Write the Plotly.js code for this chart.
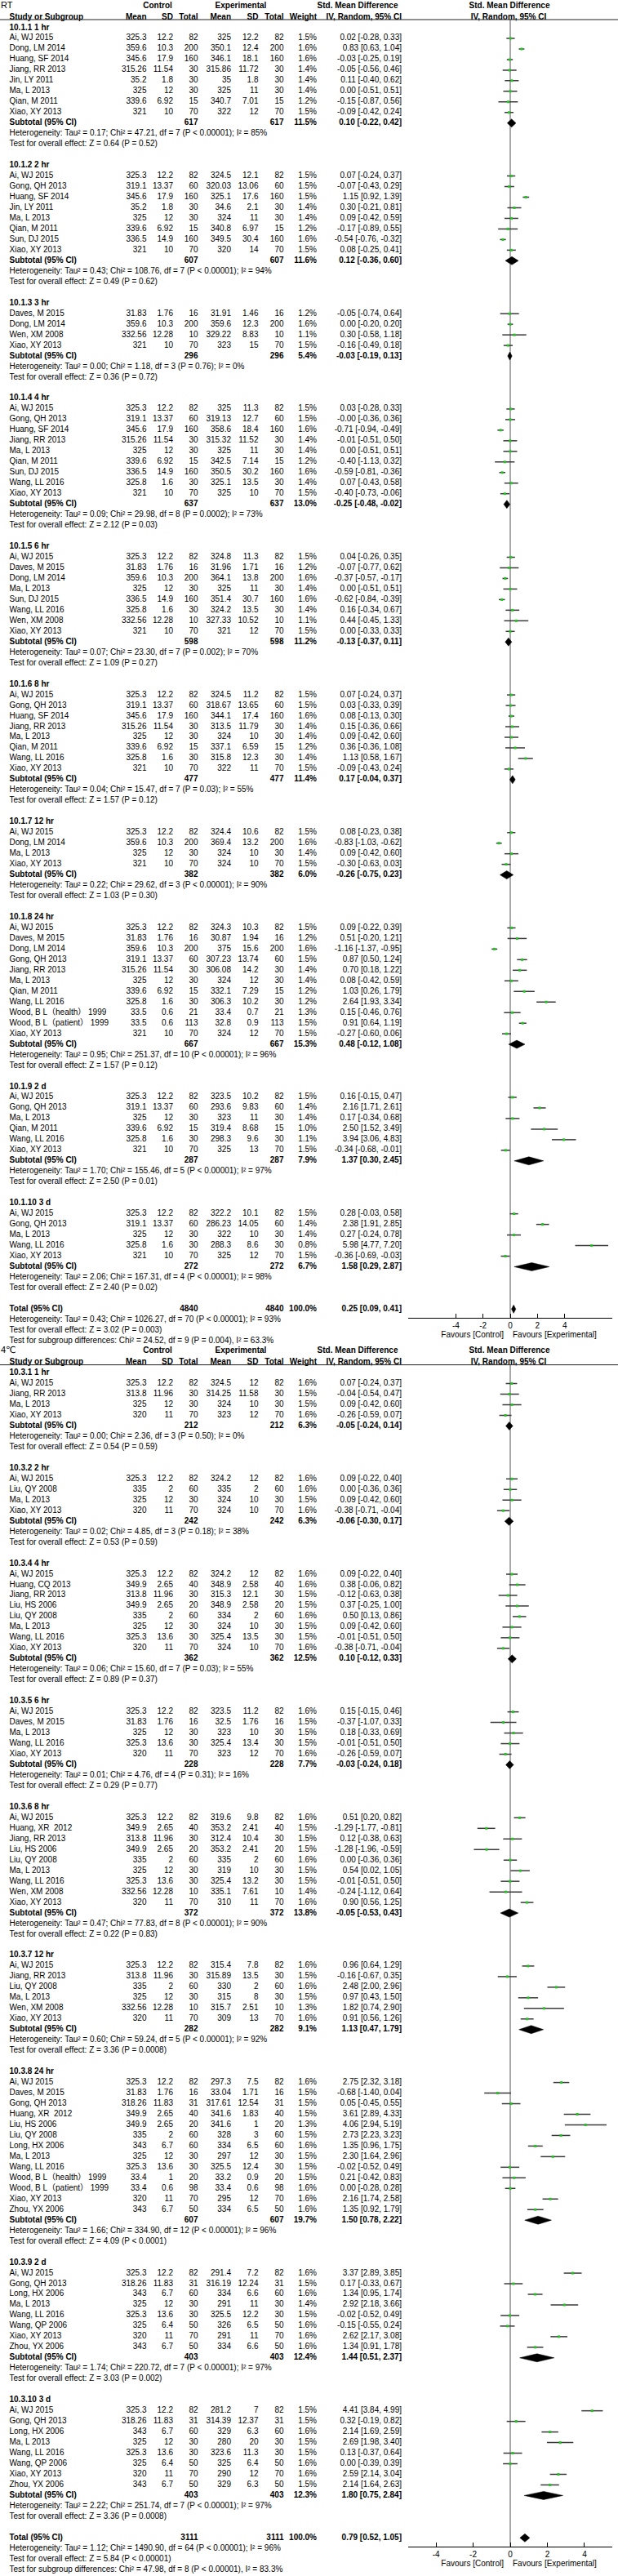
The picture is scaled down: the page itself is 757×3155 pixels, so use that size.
<!DOCTYPE html>
<html><head><meta charset="utf-8">
<script src="https://cdn.plot.ly/plotly-3.0.1.min.js"></script>
<style>html,body{margin:0;padding:0;background:#fff;}#chart{width:757px;height:3155px;}</style>
</head><body><div id="chart"></div>
<script>
// ================= RT panel =================
const rtTitle = "RT";
const rtGroupLabels = ["10.1.1 1 hr","10.1.2 2 hr","10.1.3 3 hr","10.1.4 4 hr","10.1.5 6 hr","10.1.6 8 hr","10.1.7 12 hr","10.1.8 24 hr","10.1.9 2 d","10.1.10 3 d"];
const rtGroupSizes = [8,8,4,9,8,8,4,11,6,5];
const rtStudy = [
 "Ai, WJ 2015","Dong, LM 2014","Huang, SF 2014","Jiang, RR 2013","Jin, LY 2011","Ma, L 2013","Qian, M 2011","Xiao, XY 2013",
 "Ai, WJ 2015","Gong, QH 2013","Huang, SF 2014","Jin, LY 2011","Ma, L 2013","Qian, M 2011","Sun, DJ 2015","Xiao, XY 2013",
 "Daves, M 2015","Dong, LM 2014","Wen, XM 2008","Xiao, XY 2013",
 "Ai, WJ 2015","Gong, QH 2013","Huang, SF 2014","Jiang, RR 2013","Ma, L 2013","Qian, M 2011","Sun, DJ 2015","Wang, LL 2016","Xiao, XY 2013",
 "Ai, WJ 2015","Daves, M 2015","Dong, LM 2014","Ma, L 2013","Sun, DJ 2015","Wang, LL 2016","Wen, XM 2008","Xiao, XY 2013",
 "Ai, WJ 2015","Gong, QH 2013","Huang, SF 2014","Jiang, RR 2013","Ma, L 2013","Qian, M 2011","Wang, LL 2016","Xiao, XY 2013",
 "Ai, WJ 2015","Dong, LM 2014","Ma, L 2013","Xiao, XY 2013",
 "Ai, WJ 2015","Daves, M 2015","Dong, LM 2014","Gong, QH 2013","Jiang, RR 2013","Ma, L 2013","Qian, M 2011","Wang, LL 2016","Wood, B L（health） 1999","Wood, B L（patient） 1999","Xiao, XY 2013",
 "Ai, WJ 2015","Gong, QH 2013","Ma, L 2013","Qian, M 2011","Wang, LL 2016","Xiao, XY 2013",
 "Ai, WJ 2015","Gong, QH 2013","Ma, L 2013","Wang, LL 2016","Xiao, XY 2013"];
const rtCtrlMean = [325.3,359.6,345.6,315.26,35.2,325,339.6,321, 325.3,319.1,345.6,35.2,325,339.6,336.5,321, 31.83,359.6,332.56,321, 325.3,319.1,345.6,315.26,325,339.6,336.5,325.8,321, 325.3,31.83,359.6,325,336.5,325.8,332.56,321, 325.3,319.1,345.6,315.26,325,339.6,325.8,321, 325.3,359.6,325,321, 325.3,31.83,359.6,319.1,315.26,325,339.6,325.8,33.5,33.5,321, 325.3,319.1,325,339.6,325.8,321, 325.3,319.1,325,325.8,321];
const rtCtrlSD = [12.2,10.3,17.9,11.54,1.8,12,6.92,10, 12.2,13.37,17.9,1.8,12,6.92,14.9,10, 1.76,10.3,12.28,10, 12.2,13.37,17.9,11.54,12,6.92,14.9,1.6,10, 12.2,1.76,10.3,12,14.9,1.6,12.28,10, 12.2,13.37,17.9,11.54,12,6.92,1.6,10, 12.2,10.3,12,10, 12.2,1.76,10.3,13.37,11.54,12,6.92,1.6,0.6,0.6,10, 12.2,13.37,12,6.92,1.6,10, 12.2,13.37,12,1.6,10];
const rtCtrlN = [82,200,160,30,30,30,15,70, 82,60,160,30,30,15,160,70, 16,200,10,70, 82,60,160,30,30,15,160,30,70, 82,16,200,30,160,30,10,70, 82,60,160,30,30,15,30,70, 82,200,30,70, 82,16,200,60,30,30,15,30,21,113,70, 82,60,30,15,30,70, 82,60,30,30,70];
const rtExpMean = [325,350.1,346.1,315.86,35,325,340.7,322, 324.5,320.03,325.1,34.6,324,340.8,349.5,320, 31.91,359.6,329.22,323, 325,319.13,358.6,315.32,325,342.5,350.5,325.1,325, 324.8,31.96,364.1,325,351.4,324.2,327.33,321, 324.5,318.67,344.1,313.5,324,337.1,315.8,322, 324.4,369.4,324,324, 324.3,30.87,375,307.23,306.08,324,332.1,306.3,33.4,32.8,324, 323.5,293.6,323,319.4,298.3,325, 322.2,286.23,322,288.3,325];
const rtExpSD = [12.2,12.4,18.1,11.72,1.8,11,7.01,12, 12.1,13.06,17.6,2.1,11,6.97,30.4,14, 1.46,12.3,8.83,15, 11.3,12.7,18.4,11.52,11,7.14,30.2,13.5,10, 11.3,1.71,13.8,11,30.7,13.5,10.52,12, 11.2,13.65,17.4,11.79,10,6.59,12.3,11, 10.6,13.2,10,10, 10.3,1.94,15.6,13.74,14.2,12,7.29,10.2,0.7,0.9,12, 10.2,9.83,11,8.68,9.6,13, 10.1,14.05,10,8.6,12];
const rtExpN = [82,200,160,30,30,30,15,70, 82,60,160,30,30,15,160,70, 16,200,10,70, 82,60,160,30,30,15,160,30,70, 82,16,200,30,160,30,10,70, 82,60,160,30,30,15,30,70, 82,200,30,70, 82,16,200,60,30,30,15,30,21,113,70, 82,60,30,15,30,70, 82,60,30,30,70];
const rtWeight = [1.5,1.6,1.6,1.4,1.4,1.4,1.2,1.5, 1.5,1.5,1.5,1.4,1.4,1.2,1.6,1.5, 1.2,1.6,1.1,1.5, 1.5,1.5,1.6,1.4,1.4,1.2,1.6,1.4,1.5, 1.5,1.2,1.6,1.4,1.6,1.4,1.1,1.5, 1.5,1.5,1.6,1.4,1.4,1.2,1.4,1.5, 1.5,1.6,1.4,1.5, 1.5,1.2,1.6,1.5,1.4,1.4,1.2,1.2,1.3,1.5,1.5, 1.5,1.4,1.4,1.0,1.1,1.5, 1.5,1.4,1.4,0.8,1.5];
const rtSMD = [0.02,0.83,-0.03,-0.05,0.11,0.00,-0.15,-0.09, 0.07,-0.07,1.15,0.30,0.09,-0.17,-0.54,0.08, -0.05,0.00,0.30,-0.16, 0.03,-0,-0.71,-0.01,0.00,-0.40,-0.59,0.07,-0.40, 0.04,-0.07,-0.37,0.00,-0.62,0.16,0.44,0.00, 0.07,0.03,0.08,0.15,0.09,0.36,1.13,-0.09, 0.08,-0.83,0.09,-0.30, 0.09,0.51,-1.16,0.87,0.70,0.08,1.03,2.64,0.15,0.91,-0.27, 0.16,2.16,0.17,2.50,3.94,-0.34, 0.28,2.38,0.27,5.98,-0.36];
const rtLo = [-0.28,0.63,-0.25,-0.56,-0.40,-0.51,-0.87,-0.42, -0.24,-0.43,0.92,-0.21,-0.42,-0.89,-0.76,-0.25, -0.74,-0.20,-0.58,-0.49, -0.28,-0.36,-0.94,-0.51,-0.51,-1.13,-0.81,-0.43,-0.73, -0.26,-0.77,-0.57,-0.51,-0.84,-0.34,-0.45,-0.33, -0.24,-0.33,-0.13,-0.36,-0.42,-0.36,0.58,-0.43, -0.23,-1.03,-0.42,-0.63, -0.22,-0.20,-1.37,0.50,0.18,-0.42,0.26,1.93,-0.46,0.64,-0.60, -0.15,1.71,-0.34,1.52,3.06,-0.68, -0.03,1.91,-0.24,4.77,-0.69];
const rtHi = [0.33,1.04,0.19,0.46,0.62,0.51,0.56,0.24, 0.37,0.29,1.39,0.81,0.59,0.55,-0.32,0.41, 0.64,0.20,1.18,0.18, 0.33,0.36,-0.49,0.50,0.51,0.32,-0.36,0.58,-0.06, 0.35,0.62,-0.17,0.51,-0.39,0.67,1.33,0.33, 0.37,0.39,0.30,0.66,0.60,1.08,1.67,0.24, 0.38,-0.62,0.60,0.03, 0.39,1.21,-0.95,1.24,1.22,0.59,1.79,3.34,0.76,1.19,0.06, 0.47,2.61,0.68,3.49,4.83,-0.01, 0.58,2.85,0.78,7.20,-0.03];
const rtSubN = [617,607,296,637,598,477,382,667,287,272];
const rtSubW = [11.5,11.6,5.4,13.0,11.2,11.4,6.0,15.3,7.9,6.7];
const rtSubSMD = [0.10,0.12,-0.03,-0.25,-0.13,0.17,-0.26,0.48,1.37,1.58];
const rtSubLo = [-0.22,-0.36,-0.19,-0.48,-0.37,-0.04,-0.75,-0.12,0.30,0.29];
const rtSubHi = [0.42,0.60,0.13,-0.02,0.11,0.37,0.23,1.08,2.45,2.87];
const rtTau2 = [0.17,0.43,0.00,0.09,0.07,0.04,0.22,0.95,1.70,2.06];
const rtChi2 = [47.21,108.76,1.18,29.98,23.30,15.47,29.62,251.37,155.46,167.31];
const rtDf = [7,7,3,8,7,7,3,10,5,4];
const rtHetP = ["< 0.00001","< 0.00001","= 0.76","= 0.0002","= 0.002","= 0.03","< 0.00001","< 0.00001","< 0.00001","< 0.00001"];
const rtI2 = [85,94,0,73,70,55,90,96,97,98];
const rtZ = [0.64,0.49,0.36,2.12,1.09,1.57,1.03,1.57,2.50,2.40];
const rtZP = ["= 0.52","= 0.62","= 0.72","= 0.03","= 0.27","= 0.12","= 0.30","= 0.12","= 0.01","= 0.02"];
const rtTotalN = 4840, rtTotalW = 100.0, rtTotalSMD = 0.25, rtTotalLo = 0.09, rtTotalHi = 0.41;
const rtTotalHet = {tau2: 0.43, chi2: 1026.27, df: 70, p: "< 0.00001", i2: 93};
const rtTotalZ = 3.02, rtTotalZP = "= 0.003";
const rtSubDiff = {chi2: 24.52, df: 9, p: "= 0.004", i2: 63.3};
const rtXRange = [-7.5, 7.5];

// ================= 4℃ panel =================
const c4Title = "4℃";
const c4GroupLabels = ["10.3.1 1 hr","10.3.2 2 hr","10.3.4 4 hr","10.3.5 6 hr","10.3.6 8 hr","10.3.7 12 hr","10.3.8 24 hr","10.3.9 2 d","10.3.10 3 d"];
const c4GroupSizes = [4,4,8,5,9,6,13,8,8];
const c4Study = [
 "Ai, WJ 2015","Jiang, RR 2013","Ma, L 2013","Xiao, XY 2013",
 "Ai, WJ 2015","Liu, QY 2008","Ma, L 2013","Xiao, XY 2013",
 "Ai, WJ 2015","Huang, CQ 2013","Jiang, RR 2013","Liu, HS 2006","Liu, QY 2008","Ma, L 2013","Wang, LL 2016","Xiao, XY 2013",
 "Ai, WJ 2015","Daves, M 2015","Ma, L 2013","Wang, LL 2016","Xiao, XY 2013",
 "Ai, WJ 2015","Huang, XR\u00a0 2012","Jiang, RR 2013","Liu, HS 2006","Liu, QY 2008","Ma, L 2013","Wang, LL 2016","Wen, XM 2008","Xiao, XY 2013",
 "Ai, WJ 2015","Jiang, RR 2013","Liu, QY 2008","Ma, L 2013","Wen, XM 2008","Xiao, XY 2013",
 "Ai, WJ 2015","Daves, M 2015","Gong, QH 2013","Huang, XR\u00a0 2012","Liu, HS 2006","Liu, QY 2008","Long, HX 2006","Ma, L 2013","Wang, LL 2016","Wood, B L（health） 1999","Wood, B L（patient） 1999","Xiao, XY 2013","Zhou, YX 2006",
 "Ai, WJ 2015","Gong, QH 2013","Long, HX 2006","Ma, L 2013","Wang, LL 2016","Wang, QP 2006","Xiao, XY 2013","Zhou, YX 2006",
 "Ai, WJ 2015","Gong, QH 2013","Long, HX 2006","Ma, L 2013","Wang, LL 2016","Wang, QP 2006","Xiao, XY 2013","Zhou, YX 2006"];
const c4CtrlMean = [325.3,313.8,325,320, 325.3,335,325,320, 325.3,349.9,313.8,349.9,335,325,325.3,320, 325.3,31.83,325,325.3,320, 325.3,349.9,313.8,349.9,335,325,325.3,332.56,320, 325.3,313.8,335,325,332.56,320, 325.3,31.83,318.26,349.9,349.9,335,343,325,325.3,33.4,33.4,320,343, 325.3,318.26,343,325,325.3,325,320,343, 325.3,318.26,343,325,325.3,325,320,343];
const c4CtrlSD = [12.2,11.96,12,11, 12.2,2,12,11, 12.2,2.65,11.96,2.65,2,12,13.6,11, 12.2,1.76,12,13.6,11, 12.2,2.65,11.96,2.65,2,12,13.6,12.28,11, 12.2,11.96,2,12,12.28,11, 12.2,1.76,11.83,2.65,2.65,2,6.7,12,13.6,1,0.6,11,6.7, 12.2,11.83,6.7,12,13.6,6.4,11,6.7, 12.2,11.83,6.7,12,13.6,6.4,11,6.7];
const c4CtrlN = [82,30,30,70, 82,60,30,70, 82,40,30,20,60,30,30,70, 82,16,30,30,70, 82,40,30,20,60,30,30,10,70, 82,30,60,30,10,70, 82,16,31,40,20,60,60,30,30,20,98,70,50, 82,31,60,30,30,50,70,50, 82,31,60,30,30,50,70,50];
const c4ExpMean = [324.5,314.25,324,323, 324.2,335,324,324, 324.2,348.9,315.3,348.9,334,324,325.4,324, 323.5,32.5,323,325.4,323, 319.6,353.2,312.4,353.2,335,319,325.4,335.1,310, 315.4,315.89,330,315,315.7,309, 297.3,33.04,317.61,341.6,341.6,328,334,297,325.5,33.2,33.4,295,334, 291.4,316.19,334,291,325.5,326,291,334, 281.2,314.39,329,280,323.6,325,290,329];
const c4ExpSD = [12,11.58,10,12, 12,2,10,10, 12,2.58,12.1,2.58,2,10,13.5,10, 11.2,1.76,10,13.4,12, 9.8,2.41,10.4,2.41,2,10,13.2,7.61,11, 7.8,13.5,2,8,2.51,13, 7.5,1.71,12.54,1.83,1,3,6.5,12,12.4,0.9,0.6,12,6.5, 7.2,12.24,6.6,11,12.2,6.5,11,6.6, 7,12.37,6.3,20,11.3,6.4,12,6.3];
const c4ExpN = [82,30,30,70, 82,60,30,70, 82,40,30,20,60,30,30,70, 82,16,30,30,70, 82,40,30,20,60,30,30,10,70, 82,30,60,30,10,70, 82,16,31,40,20,60,60,30,30,20,98,70,50, 82,31,60,30,30,50,70,50, 82,31,60,30,30,50,70,50];
const c4Weight = [1.6,1.5,1.5,1.6, 1.6,1.6,1.5,1.6, 1.6,1.6,1.5,1.5,1.6,1.5,1.5,1.6, 1.6,1.5,1.5,1.5,1.6, 1.6,1.5,1.5,1.5,1.6,1.5,1.5,1.4,1.6, 1.6,1.5,1.6,1.5,1.3,1.6, 1.6,1.5,1.5,1.5,1.3,1.5,1.6,1.5,1.5,1.5,1.6,1.6,1.6, 1.6,1.5,1.6,1.4,1.5,1.6,1.6,1.6, 1.5,1.5,1.6,1.5,1.5,1.6,1.6,1.5];
const c4SMD = [0.07,-0.04,0.09,-0.26, 0.09,0.00,0.09,-0.38, 0.09,0.38,-0.12,0.37,0.50,0.09,-0.01,-0.38, 0.15,-0.37,0.18,-0.01,-0.26, 0.51,-1.29,0.12,-1.28,0.00,0.54,-0.01,-0.24,0.90, 0.96,-0.16,2.48,0.97,1.82,0.91, 2.75,-0.68,0.05,3.61,4.06,2.73,1.35,2.30,-0.02,0.21,0.00,2.16,1.35, 3.37,0.17,1.34,2.92,-0.02,-0.15,2.62,1.34, 4.41,0.32,2.14,2.69,0.13,0.00,2.59,2.14];
const c4Lo = [-0.24,-0.54,-0.42,-0.59, -0.22,-0.36,-0.42,-0.71, -0.22,-0.06,-0.63,-0.25,0.13,-0.42,-0.51,-0.71, -0.15,-1.07,-0.33,-0.51,-0.59, 0.20,-1.77,-0.38,-1.96,-0.36,0.02,-0.51,-1.12,0.56, 0.64,-0.67,2.00,0.43,0.74,0.56, 2.32,-1.40,-0.45,2.89,2.94,2.23,0.96,1.64,-0.52,-0.42,-0.28,1.74,0.92, 2.89,-0.33,0.95,2.18,-0.52,-0.55,2.17,0.91, 3.84,-0.19,1.69,1.98,-0.37,-0.39,2.14,1.64];
const c4Hi = [0.37,0.47,0.60,0.07, 0.40,0.36,0.60,-0.04, 0.40,0.82,0.38,1.00,0.86,0.60,0.50,-0.04, 0.46,0.33,0.69,0.50,0.07, 0.82,-0.81,0.63,-0.59,0.36,1.05,0.50,0.64,1.25, 1.29,0.35,2.96,1.50,2.90,1.26, 3.18,0.04,0.55,4.33,5.19,3.23,1.75,2.96,0.49,0.83,0.28,2.58,1.79, 3.85,0.67,1.74,3.66,0.49,0.24,3.08,1.78, 4.99,0.82,2.59,3.40,0.64,0.39,3.04,2.63];
const c4SubN = [212,242,362,228,372,282,607,403,403];
const c4SubW = [6.3,6.3,12.5,7.7,13.8,9.1,19.7,12.4,12.3];
const c4SubSMD = [-0.05,-0.06,0.10,-0.03,-0.05,1.13,1.50,1.44,1.80];
const c4SubLo = [-0.24,-0.30,-0.12,-0.24,-0.53,0.47,0.78,0.51,0.75];
const c4SubHi = [0.14,0.17,0.33,0.18,0.43,1.79,2.22,2.37,2.84];
const c4Tau2 = [0.00,0.02,0.06,0.01,0.47,0.60,1.66,1.74,2.22];
const c4Chi2 = [2.36,4.85,15.60,4.76,77.83,59.24,334.90,220.72,251.74];
const c4Df = [3,3,7,4,8,5,12,7,7];
const c4HetP = ["= 0.50","= 0.18","= 0.03","= 0.31","< 0.00001","< 0.00001","< 0.00001","< 0.00001","< 0.00001"];
const c4I2 = [0,38,55,16,90,92,96,97,97];
const c4Z = [0.54,0.53,0.89,0.29,0.22,3.36,4.09,3.03,3.36];
const c4ZP = ["= 0.59","= 0.59","= 0.37","= 0.77","= 0.83","= 0.0008","< 0.0001","= 0.002","= 0.0008"];
const c4TotalN = 3111, c4TotalW = 100.0, c4TotalSMD = 0.79, c4TotalLo = 0.52, c4TotalHi = 1.05;
const c4TotalHet = {tau2: 1.12, chi2: 1490.90, df: 64, p: "< 0.00001", i2: 96};
const c4TotalZ = 5.84, c4TotalZP = "< 0.00001";
const c4SubDiff = {chi2: 47.98, df: 8, p: "< 0.00001", i2: 83.3};
const c4XRange = [-5.5, 5.5];

const tickVals = [-4,-2,0,2,4];
const tickText = ["-4","-2","0","2","4"];

// ================= drawing =================
const W = 757, H = 3155;
const FONT = '"Liberation Sans", Arial, "DejaVu Sans", "Noto Sans CJK SC", sans-serif';
const STEP = 12.97;
const COLX = {name: 11.5, cMean: 179.5, cSD: 212, cN: 242.5, eMean: 283, eSD: 316.5, eN: 347.5, w: 388, ci: 492};
const PLOT_X0 = 500, PLOT_X1 = 750;

function fmt2(v){ return Object.is(v,-0) ? "-0.00" : v.toFixed(2); }
function ciText(m,l,h){ return fmt2(m)+" ["+fmt2(l)+", "+fmt2(h)+"]"; }
function hetText(t,c,d,p,i){ return "Heterogeneity: Tau² = "+t.toFixed(2)+"; Chi² = "+c.toFixed(2)+", df = "+d+" (P "+p+"); I² = "+i+"%"; }

function buildPanel(P, row0, T){
  const Y = r => row0 + r*STEP;
  const push = (arr,x,y,t) => arr.push({x,y,t});
  const yA = row0 - 27, yB = row0 - 13;
  push(T.title, 1, yA, P.title);
  push(T.cb, 193, yA, "Control");
  push(T.cb, 295, yA, "Experimental");
  push(T.cb, 438, yA, "Std. Mean Difference");
  push(T.cb, 624, yA, "Std. Mean Difference");
  push(T.lb, COLX.name, yB, "Study or Subgroup");
  [["cMean","Mean"],["cSD","SD"],["cN","Total"],["eMean","Mean"],["eSD","SD"],["eN","Total"],["w","Weight"],["ci","IV, Random, 95% CI"]]
    .forEach(([k,t]) => push(T.rb, COLX[k], yB, t));
  push(T.cb, 623, yB, "IV, Random, 95% CI");
  const F = {ciX:[], ciY:[], sqX:[], sqY:[], dia:[]};
  let r = 0, s = 0;
  P.groupLabels.forEach((lab,g) => {
    push(T.lb, COLX.name, Y(r), lab); r++;
    for (let k = 0; k < P.groupSizes[g]; k++, s++, r++) {
      const y = Y(r);
      push(T.lr, COLX.name, y, P.study[s]);
      push(T.rr, COLX.cMean, y, String(P.cMean[s]));
      push(T.rr, COLX.cSD, y, String(P.cSD[s]));
      push(T.rr, COLX.cN, y, String(P.cN[s]));
      push(T.rr, COLX.eMean, y, String(P.eMean[s]));
      push(T.rr, COLX.eSD, y, String(P.eSD[s]));
      push(T.rr, COLX.eN, y, String(P.eN[s]));
      push(T.rr, COLX.w, y, P.weight[s].toFixed(1)+"%");
      push(T.rr, COLX.ci, y, ciText(P.smd[s], P.lo[s], P.hi[s]));
      F.ciX.push(P.lo[s], P.hi[s], null); F.ciY.push(y, y, null);
      F.sqX.push(P.smd[s]); F.sqY.push(y);
    }
    const y = Y(r);
    push(T.lb, COLX.name, y, "Subtotal (95% CI)");
    push(T.rb, COLX.cN, y, String(P.subN[g]));
    push(T.rb, COLX.eN, y, String(P.subN[g]));
    push(T.rb, COLX.w, y, P.subW[g].toFixed(1)+"%");
    push(T.rb, COLX.ci, y, ciText(P.subSMD[g], P.subLo[g], P.subHi[g]));
    F.dia.push({m:P.subSMD[g], l:P.subLo[g], h:P.subHi[g], y});
    r++;
    push(T.lr, COLX.name, Y(r), hetText(P.tau2[g], P.chi2[g], P.df[g], P.hetP[g], P.i2[g])); r++;
    push(T.lr, COLX.name, Y(r), "Test for overall effect: Z = "+P.z[g].toFixed(2)+" (P "+P.zP[g]+")"); r++;
    r++;
  });
  const ty = Y(r);
  push(T.lb, COLX.name, ty, "Total (95% CI)");
  push(T.rb, COLX.cN, ty, String(P.totalN));
  push(T.rb, COLX.eN, ty, String(P.totalN));
  push(T.rb, COLX.w, ty, P.totalW.toFixed(1)+"%");
  push(T.rb, COLX.ci, ty, ciText(P.totalSMD, P.totalLo, P.totalHi));
  F.dia.push({m:P.totalSMD, l:P.totalLo, h:P.totalHi, y:ty});
  r++;
  const th = P.totalHet;
  push(T.lr, COLX.name, Y(r), hetText(th.tau2, th.chi2, th.df, th.p, th.i2)); r++;
  push(T.lr, COLX.name, Y(r), "Test for overall effect: Z = "+P.totalZ.toFixed(2)+" (P "+P.totalZP+")"); r++;
  const sd = P.subDiff;
  push(T.lr, COLX.name, Y(r), "Test for subgroup differences: Chi² = "+sd.chi2.toFixed(2)+", df = "+sd.df+" (P "+sd.p+"), I² = "+sd.i2.toFixed(1)+"%");
  push(T.rr, 617, ty + 32.5, "Favours [Control]");
  push(T.lr, 628, ty + 32.5, "Favours [Experimental]");
  F.top = row0 - 10;
  F.bottom = ty + 10.5;
  return F;
}

const panels = [
 {title: rtTitle, groupLabels: rtGroupLabels, groupSizes: rtGroupSizes, study: rtStudy, cMean: rtCtrlMean, cSD: rtCtrlSD, cN: rtCtrlN,
  eMean: rtExpMean, eSD: rtExpSD, eN: rtExpN, weight: rtWeight, smd: rtSMD, lo: rtLo, hi: rtHi,
  subN: rtSubN, subW: rtSubW, subSMD: rtSubSMD, subLo: rtSubLo, subHi: rtSubHi, tau2: rtTau2, chi2: rtChi2, df: rtDf, hetP: rtHetP, i2: rtI2, z: rtZ, zP: rtZP,
  totalN: rtTotalN, totalW: rtTotalW, totalSMD: rtTotalSMD, totalLo: rtTotalLo, totalHi: rtTotalHi, totalHet: rtTotalHet, totalZ: rtTotalZ, totalZP: rtTotalZP, subDiff: rtSubDiff, xRange: rtXRange, row0: 34},
 {title: c4Title, groupLabels: c4GroupLabels, groupSizes: c4GroupSizes, study: c4Study, cMean: c4CtrlMean, cSD: c4CtrlSD, cN: c4CtrlN,
  eMean: c4ExpMean, eSD: c4ExpSD, eN: c4ExpN, weight: c4Weight, smd: c4SMD, lo: c4Lo, hi: c4Hi,
  subN: c4SubN, subW: c4SubW, subSMD: c4SubSMD, subLo: c4SubLo, subHi: c4SubHi, tau2: c4Tau2, chi2: c4Chi2, df: c4Df, hetP: c4HetP, i2: c4I2, z: c4Z, zP: c4ZP,
  totalN: c4TotalN, totalW: c4TotalW, totalSMD: c4TotalSMD, totalLo: c4TotalLo, totalHi: c4TotalHi, totalHet: c4TotalHet, totalZ: c4TotalZ, totalZP: c4TotalZP, subDiff: c4SubDiff, xRange: c4XRange, row0: 1681.6}
];

const T = {lr:[], lb:[], rr:[], rb:[], cb:[], title:[]};
const traces = [], shapes = [];
const layout = {
  width: W, height: H, margin: {l:0, r:0, t:0, b:0},
  paper_bgcolor: '#fff', plot_bgcolor: 'rgba(0,0,0,0)', showlegend: false, hovermode: false,
  font: {family: FONT, size: 10, color: '#000'},
  xaxis: {domain:[0,1], range:[0,W], visible:false, fixedrange:true},
  yaxis: {domain:[0,1], range:[H,0], visible:false, fixedrange:true},
  shapes: shapes
};

panels.forEach((P, idx) => {
  const F = buildPanel(P, P.row0, T);
  const n = idx + 2;
  const xa = 'x'+n, ya = 'y'+n;
  layout['xaxis'+n] = {domain:[PLOT_X0/W, PLOT_X1/W], range:P.xRange, anchor:ya, showline:true, linecolor:'#000', linewidth:1,
    ticks:'inside', ticklen:5, tickwidth:1, tickcolor:'#000', tickvals:tickVals, ticktext:tickText, showgrid:false, zeroline:false,
    tickfont:{family:FONT, size:10, color:'#000'}, fixedrange:true};
  layout['yaxis'+n] = {domain:[1 - F.bottom/H, 1 - F.top/H], range:[F.bottom, F.top], anchor:xa, visible:false, fixedrange:true};
  shapes.push({type:'line', xref:'x', yref:'y', x0:0, x1:W, y0:F.top, y1:F.top, line:{color:'#222', width:1}});
  shapes.push({type:'line', xref:xa, yref:ya, x0:0, x1:0, y0:F.top, y1:F.bottom, layer:'below', line:{color:'#555', width:1}});
  traces.push({type:'scatter', mode:'lines', x:F.ciX, y:F.ciY, xaxis:xa, yaxis:ya, line:{color:'#3a3a3a', width:1.5}, hoverinfo:'skip'});
  traces.push({type:'scatter', mode:'markers', x:F.sqX, y:F.sqY, xaxis:xa, yaxis:ya, marker:{symbol:'square', size:3, color:'#22c522', line:{width:0}}, hoverinfo:'skip'});
  F.dia.forEach(d => {
    traces.push({type:'scatter', mode:'lines', x:[d.l, d.m, d.h, d.m, d.l], y:[d.y, d.y-5, d.y, d.y+5, d.y], xaxis:xa, yaxis:ya,
      fill:'toself', fillcolor:'#000', line:{color:'#000', width:0.5}, hoverinfo:'skip'});
  });
});

function textTrace(arr, pos, bold, size){
  return {type:'scatter', mode:'text', x:arr.map(d=>d.x), y:arr.map(d=>d.y), text:arr.map(d=>d.t), textposition:pos,
    textfont:{family:FONT, size:size, color:'#000', weight: bold ? 700 : 400}, xaxis:'x', yaxis:'y', cliponaxis:false, hoverinfo:'skip'};
}
traces.push(textTrace(T.lr, 'middle right', false, 10));
traces.push(textTrace(T.lb, 'middle right', true, 10));
traces.push(textTrace(T.rr, 'middle left', false, 10));
traces.push(textTrace(T.rb, 'middle left', true, 10));
traces.push(textTrace(T.cb, 'middle center', true, 10));
traces.push(textTrace(T.title, 'middle right', false, 11));

Plotly.newPlot('chart', traces, layout, {staticPlot:true, displayModeBar:false});
</script>
</body></html>
